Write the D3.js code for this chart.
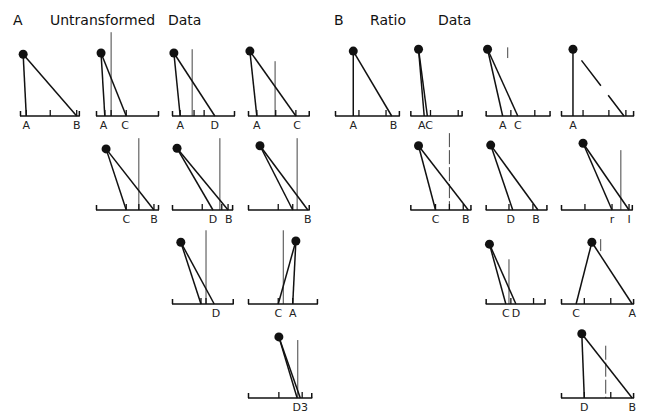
<!DOCTYPE html>
<html>
<head>
    <meta charset="UTF-8">
    <title>Untransformed and ratio data</title>
    <script src="https://d3js.org/d3.v7.min.js"></script>
    <style>
        body { margin: 0; padding: 0; background: #fff; }
        .title { font-family: 'DejaVu Sans'; font-size: 14px; fill: #111; }
        .lbl { font-family: 'DejaVu Sans'; font-size: 11px; fill: #222; }
    </style>
</head>
<body>
    <svg width="645" height="415"></svg>
    <script>
        // section headings
        const headingA = ["A", "Untransformed", "Data"];
        const headingB = ["B", "Ratio", "Data"];

        // each panel: grid row/col, apex (x, height), the two feet, vertical marker,
        // internal ticks and letters under the axis. Units: 0..100 along the axis.
        const panelsA = [
            { row: 0, col: 0, end: 95,  apex: [5, 98],   feet: [10, 90], vline: null,          ticks: [10, 48, 90], labels: [["A", 10], ["B", 90]] },
            { row: 0, col: 1, end: 100, apex: [8, 100],  feet: [14, 48], vline: [24, 133, 0],  ticks: [14, 24, 48], labels: [["A", 12], ["C", 46]] },
            { row: 0, col: 2, end: 100, apex: [3, 100],  feet: [13, 68], vline: [32, 106, 0],  ticks: [13, 35, 51], labels: [["A", 13], ["D", 68]] },
            { row: 0, col: 3, end: 98,  apex: [3, 103],  feet: [14, 76], vline: [43, 87, 0],   ticks: [14, 44, 76], labels: [["A", 14], ["C", 78]] },
            { row: 1, col: 1, end: 100, apex: [16, 97],  feet: [48, 92], vline: [68, 114, 0],  ticks: [48, 68, 92], labels: [["C", 48], ["B", 92]] },
            { row: 1, col: 2, end: 97,  apex: [8, 98],   feet: [65, 89], vline: [76, 114, 0],  ticks: [48, 79, 89], labels: [["D", 65], ["B", 90]] },
            { row: 1, col: 3, end: 98,  apex: [19, 102], feet: [71, 95], vline: [78, 114, 0],  ticks: [48, 71],     labels: [["B", 95]] },
            { row: 2, col: 2, end: 98,  apex: [14, 98],  feet: [46, 67], vline: [54, 117, 0],  ticks: [46, 54],     labels: [["D", 70]] },
            { row: 2, col: 3, end: 111, apex: [76, 100], feet: [48, 71], vline: [56, 117, 0],  ticks: [48, 71],     labels: [["C", 48], ["A", 71]] },
            { row: 3, col: 3, end: 102, apex: [49, 97],  feet: [78, 83], vline: [79, 92, 0],   ticks: [49, 86],     labels: [["D3", 83]] }
        ];
        const panelsB = [
            { row: 0, col: 0, end: 103, apex: [29, 103], feet: [29, 90],  vline: null,          ticks: [38, 81],      labels: [["A", 29], ["B", 93]] },
            { row: 0, col: 1, end: 83,  apex: [13, 106], feet: [22, 27],  vline: null,          ticks: [32, 76],      labels: [["AC", 24]] },
            { row: 0, col: 2, end: 103, apex: [3, 106],  feet: [27, 51],  vline: [35, 109, 92], ticks: [40, 78],      labels: [["A", 27], ["C", 51]] },
            { row: 0, col: 3, end: 116, apex: [19, 106], feet: [19, 100], vline: null,          ticks: [35, 76, 103], labels: [["A", 19]], dashed: true },
            { row: 1, col: 1, end: 97,  apex: [13, 102], feet: [40, 92],  vline: [62, 122, 0],  ticks: [40, 62, 84],  labels: [["C", 40], ["B", 88]], dashed: true },
            { row: 1, col: 2, end: 98,  apex: [8, 103],  feet: [43, 83],  vline: null,          ticks: [37, 75],      labels: [["D", 40], ["B", 80]] },
            { row: 1, col: 3, end: 114, apex: [35, 106], feet: [81, 108], vline: [95, 95, 0],   ticks: [38, 81, 108], labels: [["r", 81], ["I", 108]] },
            { row: 2, col: 2, end: 95,  apex: [6, 95],   feet: [32, 48],  vline: [37, 71, 0],   ticks: [40, 76],      labels: [["C", 32], ["D", 48]] },
            { row: 2, col: 3, end: 116, apex: [49, 98],  feet: [24, 113], vline: [63, 103, 84], ticks: [37, 79],      labels: [["C", 24], ["A", 113]] },
            { row: 3, col: 3, end: 116, apex: [33, 102], feet: [37, 113], vline: [71, 83, 0],   ticks: [37, 79],      labels: [["D", 37], ["B", 113]], dashed: true }
        ];

        const svg = d3.select("svg");

        const rowY = d3.scaleLinear().domain([0, 3]).range([116, 398]);
        const colA = d3.scaleLinear().domain([0, 3]).range([20, 248]);
        const colB = d3.scaleLinear().domain([0, 3]).range([335, 561]);

        // local panel scales (units -> px)
        const ux = d3.scaleLinear().domain([0, 100]).range([0, 63]);
        const uy = d3.scaleLinear().domain([0, 100]).range([0, -63]);

        // headings
        const hA = svg.append("text").attr("class", "title").attr("y", 25);
        hA.append("tspan").attr("x", 13).text(headingA[0]);
        hA.append("tspan").attr("x", 50).text(headingA[1]);
        hA.append("tspan").attr("x", 168).text(headingA[2]);
        const hB = svg.append("text").attr("class", "title").attr("y", 25);
        hB.append("tspan").attr("x", 334).text(headingB[0]);
        hB.append("tspan").attr("x", 370).text(headingB[1]);
        hB.append("tspan").attr("x", 438).text(headingB[2]);

        function drawPanels(list, colScale) {
            const g = svg.append("g").selectAll("g")
                .data(list)
                .enter()
                .append("g")
                .attr("transform", d => `translate(${colScale(d.col)},${rowY(d.row)})`);

            // vertical marker
            g.filter(d => d.vline)
                .append("line")
                .attr("x1", d => ux(d.vline[0])).attr("x2", d => ux(d.vline[0]))
                .attr("y1", d => uy(d.vline[1])).attr("y2", d => uy(d.vline[2]))
                .attr("stroke", "#444")
                .attr("stroke-width", 1)
                .attr("stroke-dasharray", d => d.dashed ? "14,3" : null);

            // axis
            g.append("line")
                .attr("x1", 0).attr("x2", d => ux(d.end))
                .attr("y1", 0).attr("y2", 0)
                .attr("stroke", "#111").attr("stroke-width", 1.5);
            g.append("path")
                .attr("d", d => `M0.5,-5V0M${ux(d.end) - 0.5},-5V0`)
                .attr("stroke", "#111").attr("stroke-width", 1.5).attr("fill", "none");
            g.selectAll(".tick")
                .data(d => d.ticks)
                .enter()
                .append("line")
                .attr("x1", t => ux(t)).attr("x2", t => ux(t))
                .attr("y1", -6).attr("y2", 0)
                .attr("stroke", "#111").attr("stroke-width", 1.3);

            // the two legs from apex to feet
            g.selectAll(".leg")
                .data(d => d.feet.map((f, i) => ({ f: f, a: d.apex, dash: d.dashed && i === 1 && d.vline === null })))
                .enter()
                .append("line")
                .attr("x1", l => ux(l.a[0])).attr("y1", l => uy(l.a[1]))
                .attr("x2", l => ux(l.f)).attr("y2", 0)
                .attr("stroke", "#111").attr("stroke-width", 1.5)
                .attr("stroke-dasharray", l => l.dash ? "0,14,32,12,100" : null);

            // apex dot
            g.append("circle")
                .attr("cx", d => ux(d.apex[0])).attr("cy", d => uy(d.apex[1]))
                .attr("r", 4.5).attr("fill", "#111");

            // letters
            g.selectAll(".lbl")
                .data(d => d.labels)
                .enter()
                .append("text")
                .attr("class", "lbl")
                .attr("x", l => ux(l[1])).attr("y", 13)
                .attr("text-anchor", "middle")
                .text(l => l[0]);
        }

        drawPanels(panelsA, colA);
        drawPanels(panelsB, colB);
    </script>
</body>
</html>
